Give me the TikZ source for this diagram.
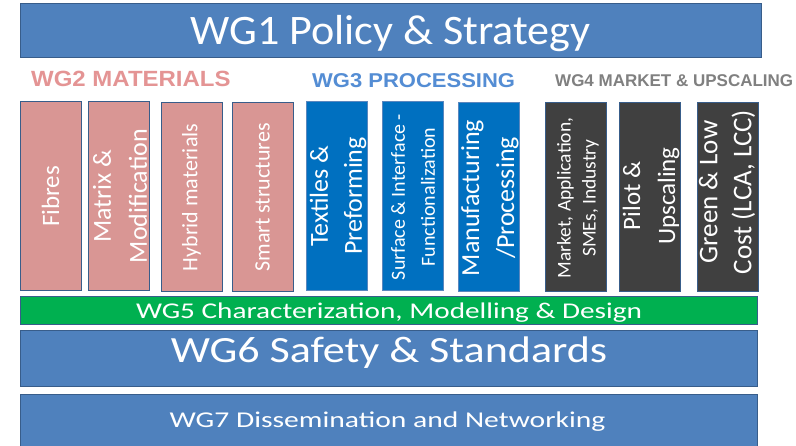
\documentclass[tikz,border=0pt]{standalone}
\usepackage{fontspec}
\setmainfont{Carlito}
\newfontfamily\hdrfont{Liberation Sans}

\definecolor{barblue}{RGB}{79,129,189}
\definecolor{edgeblue}{RGB}{56,93,138}
\definecolor{edgelight}{RGB}{90,135,190}
\definecolor{wggreen}{RGB}{0,176,80}
\definecolor{colpink}{RGB}{217,150,148}
\definecolor{colblue}{RGB}{0,112,192}
\definecolor{coldark}{RGB}{64,64,64}
\definecolor{headpink}{RGB}{228,148,148}
\definecolor{headblue}{RGB}{84,141,212}
\definecolor{headgray}{RGB}{128,128,128}

\newcommand\fsz[2]{\fontsize{#1}{#2}\selectfont}
\newcommand\hstretch[2]{\scalebox{#1}[1]{#2}}

\tikzset{
  bar/.style={draw=edgeblue, line width=1pt, fill=barblue, inner sep=0pt},
  greenbar/.style={bar, fill=wggreen},
  colbox/.style={draw=edgeblue, line width=1pt, inner sep=0pt,
                 minimum width=61pt, minimum height=189pt},
  pinkcol/.style={colbox, fill=colpink},
  bluecol/.style={colbox, fill=colblue, draw=edgelight},
  darkcol/.style={colbox, fill=coldark},
  coltext/.style={text=white, rotate=90, align=center, inner sep=0pt},
  bartext/.style={text=white, anchor=base, inner sep=0pt},
  head/.style={anchor=base west, inner sep=0pt, font=\hdrfont\bfseries},
}

\begin{document}
\begin{tikzpicture}[x=1pt,y=-1pt]
\useasboundingbox (0,0) rectangle (796,446);
\fill[white] (0,0) rectangle (796,446);

% top bar
\node[bar, minimum width=741pt, minimum height=54pt] (wg1) at (390.5,31) {};
\node[bartext, font=\fsz{42}{50}] (wg1t) at (390.5,45) {\hstretch{1.05}{WG1 Policy \& Strategy}};

% group headings
\node[head, text=headpink, font=\hdrfont\bfseries\fsz{22}{26}] (h2) at (31,87) {\hstretch{1.09}{WG2 MATERIALS}};
\node[head, text=headblue, font=\hdrfont\bfseries\fsz{20}{24}] (h3) at (312,88) {\hstretch{1.1}{WG3 PROCESSING}};
\node[head, text=headgray, font=\hdrfont\bfseries\fsz{17}{20}] (h4) at (555,87) {WG4 MARKET \& UPSCALING};

% WG2 columns
\node[pinkcol] (fib) at (50.5,196.5) {};
\node[coltext, font=\fsz{25}{34}] (fibt) at (fib) {Fibres};
\node[pinkcol] (mat) at (119,196) {};
\node[coltext, font=\fsz{26}{36}] (matt) at (120,196) {Matrix \&\\Modification};
\node[pinkcol] (hyb) at (191.5,197.5) {};
\node[coltext, font=\fsz{22}{30}] (hybt) at (hyb) {Hybrid materials};
\node[pinkcol] (sma) at (262.5,197.5) {};
\node[coltext, font=\fsz{22}{30}] (smat) at (sma) {Smart structures};

% WG3 columns
\node[bluecol] (tex) at (337,196) {};
\node[coltext, font=\fsz{26}{34}] (text) at (338,196) {Textiles \&\\Preforming};
\node[bluecol] (sur) at (412.5,196) {};
\node[coltext, font=\fsz{20}{30}] (surt) at (413,197) {Surface \& Interface -\\Functionalization};
\node[bluecol] (man) at (488.5,197.5) {};
\node[coltext, font=\fsz{26}{35}] (mant) at (490,198) {Manufacturing\\/Processing};

% WG4 columns
\node[darkcol] (mar) at (575.5,197.5) {};
\node[coltext, font=\fsz{19.5}{25}] (mart) at (578,198) {Market, Application,\\SMEs, Industry};
\node[darkcol] (pil) at (649.5,197.5) {};
\node[coltext, font=\fsz{25}{35}] (pilt) at (651,196) {Pilot \&\\Upscaling};
\node[darkcol] (gre) at (727.5,197.5) {};
\node[coltext, font=\fsz{27}{34}] (gret) at (727,192) {Green \& Low\\Cost (LCA, LCC)};

% cross-cutting bars
\node[greenbar, minimum width=737pt, minimum height=28pt] (wg5) at (388.5,311) {};
\node[bartext, font=\fsz{22.5}{26}] (wg5t) at (389,319) {\hstretch{1.3}{WG5 Characterization, Modelling \& Design}};
\node[bar, minimum width=737pt, minimum height=56pt] (wg6) at (388.5,359) {};
\node[bartext, font=\fsz{37}{44}] (wg6t) at (389,363) {\hstretch{1.19}{WG6 Safety \& Standards}};
\node[bar, minimum width=737pt, minimum height=57pt] (wg7) at (388.5,423.5) {};
\node[bartext, font=\fsz{22.6}{27}] (wg7t) at (387.5,428) {\hstretch{1.31}{WG7 Dissemination and Networking}};
\end{tikzpicture}
\end{document}
